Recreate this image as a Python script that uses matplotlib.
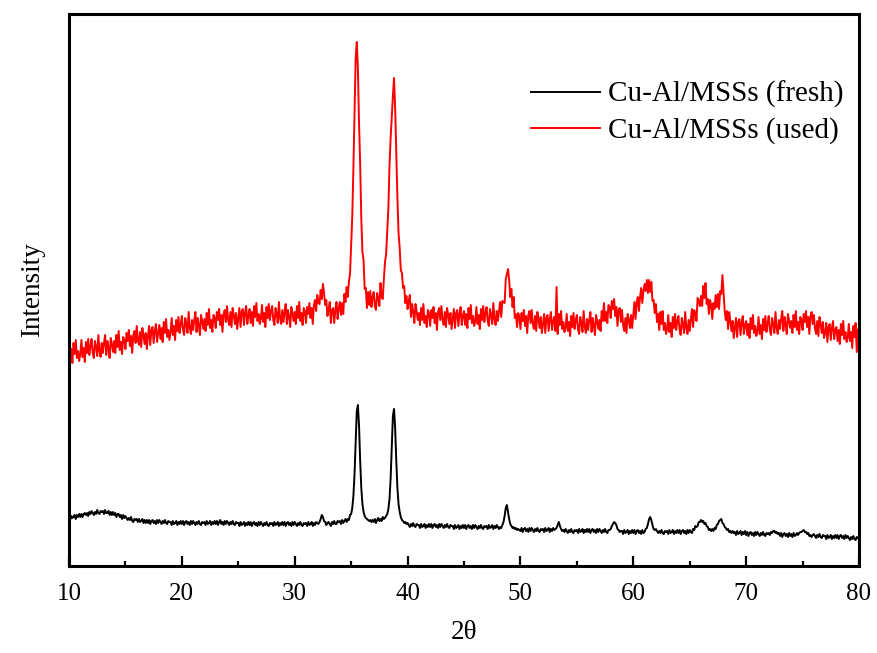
import numpy as np
import matplotlib
matplotlib.use("Agg")
import matplotlib.pyplot as plt
from matplotlib.ticker import MultipleLocator

plt.rcParams['font.family'] = ['Liberation Serif', 'DejaVu Serif']

two_theta = np.round(np.linspace(10, 80, 701), 1)

fresh = [
    49,46,50,48,49,51,47,51,49,52,
    49,52,49,52,53,51,53,50,54,52,
    55,53,51,54,52,56,53,52,55,54,
    55,52,56,53,53,55,51,54,51,54,
    51,53,49,52,52,49,51,47,51,48,
    50,48,46,48,46,49,45,44,47,46,
    47,44,47,44,45,47,43,46,43,46,
    43,46,42,45,46,43,45,42,46,43,
    46,44,42,45,43,46,43,42,45,44,
    44,41,45,42,43,45,41,44,42,45,
    42,45,41,44,45,42,44,41,45,42,
    45,43,41,44,42,45,42,41,44,43,
    44,41,45,42,43,45,41,44,42,45,
    42,45,41,44,46,42,44,41,45,42,
    45,43,41,44,42,45,42,41,44,43,
    43,40,44,41,42,44,40,43,41,44,
    41,44,40,43,44,41,43,40,44,41,
    44,42,40,43,41,44,41,40,43,42,
    43,40,44,41,42,44,40,43,41,44,
    41,44,40,43,44,41,43,40,44,41,
    44,42,40,43,41,44,41,40,43,42,
    43,40,44,41,42,44,40,43,41,44,
    43,42,44,47,51,49,45,44,41,43,
    44,42,40,44,42,45,42,42,45,44,
    45,42,46,43,45,47,44,47,46,51,
    52,58,70,92,125,155,161,140,105,78,
    62,54,50,48,47,46,45,46,44,46,
    44,47,43,46,48,45,47,45,49,47,
    48,50,52,57,67,88,120,150,157,138,
    105,78,62,54,49,46,45,43,44,42,
    43,41,39,42,40,43,40,39,42,41,
    41,38,42,39,40,42,38,41,39,42,
    39,42,38,41,42,39,41,38,42,39,
    42,40,38,41,39,42,39,38,41,40,
    40,37,41,38,39,41,37,40,38,41,
    38,41,37,40,41,38,40,37,41,38,
    41,39,37,40,38,41,38,37,40,39,
    40,37,41,38,39,41,37,40,38,41,
    39,37,39,38,41,44,50,58,61,54,
    47,42,40,38,39,37,38,36,37,36,
    35,38,34,37,38,35,37,34,38,35,
    38,36,34,37,35,38,35,34,37,36,
    37,34,38,35,36,38,34,37,35,38,
    36,37,38,41,44,40,37,35,36,34,
    37,35,33,36,34,37,34,33,36,35,
    36,33,37,34,35,37,33,36,34,37,
    34,37,33,36,37,34,36,33,37,34,
    37,35,33,36,34,37,34,33,36,36,
    37,40,42,44,43,41,37,36,34,35,
    35,32,36,33,34,36,32,35,33,36,
    33,36,32,35,36,33,35,32,36,33,
    34,37,38,42,47,49,46,41,37,36,
    37,35,33,35,33,36,33,32,35,34,
    35,32,36,33,34,36,32,35,33,36,
    33,36,32,35,36,33,35,32,36,33,
    36,34,33,37,36,40,39,40,44,44,
    46,44,45,42,43,40,39,36,37,35,
    37,35,38,37,41,42,45,46,47,43,
    42,39,38,36,37,34,35,33,35,33,
    34,31,35,32,33,35,31,34,32,35,
    31,34,30,33,34,31,33,30,34,31,
    34,32,30,33,31,34,31,30,33,32,
    33,31,34,33,35,35,33,34,32,33,
    30,33,29,32,33,30,32,29,33,30,
    32,29,33,30,31,33,31,33,34,34,
    35,36,34,34,32,33,30,31,29,31,
    32,30,28,31,29,32,29,28,31,30,
    30,27,31,28,29,31,27,30,28,31,
    28,31,27,30,31,28,30,27,31,28,
    30,28,26,29,27,30,27,26,29,28,
    28,
]

used = [
    220,206,217,203,223,212,226,208,215,205,
    212,226,209,218,204,224,213,227,211,220,
    227,213,208,225,219,210,231,215,209,223,
    213,223,231,211,225,218,208,228,222,214,
    225,213,231,219,235,216,224,212,229,226,
    217,233,225,236,220,230,213,231,235,223,
    240,226,221,234,219,238,231,222,233,217,
    230,240,221,236,239,223,235,242,224,233,
    241,227,238,224,244,233,247,229,236,226,
    234,248,231,240,226,246,235,249,233,242,
    250,236,231,248,242,233,254,238,232,246,
    236,246,254,234,248,241,231,251,245,237,
    247,235,253,241,257,238,246,234,251,248,
    238,254,246,257,241,251,234,252,256,244,
    260,246,241,254,239,258,251,242,253,237,
    248,258,239,254,257,241,253,260,242,251,
    257,243,254,240,260,249,263,245,252,242,
    247,261,244,253,239,259,248,262,246,255,
    260,246,241,258,252,243,264,248,242,256,
    244,254,262,242,256,249,239,259,253,245,
    254,242,260,248,264,245,253,241,258,255,
    243,259,252,263,248,258,242,261,266,255,
    271,263,262,276,267,282,273,261,266,250,
    256,264,243,256,258,243,256,264,247,258,
    264,251,263,252,272,264,279,269,284,292,
    322,350,398,452,508,524,497,442,402,347,
    314,306,277,278,258,274,261,275,259,269,
    274,260,256,273,268,260,283,269,267,287,
    304,312,336,358,401,428,450,470,488,458,
    412,368,333,318,296,293,278,280,263,270,
    257,265,271,249,262,254,243,262,255,246,
    253,241,258,246,262,243,250,239,256,253,
    240,256,248,259,243,253,236,254,258,246,
    260,246,241,254,239,258,251,242,253,237,
    247,257,238,253,256,240,252,259,241,250,
    255,241,252,238,258,247,261,243,250,240,
    245,259,242,251,237,257,246,260,244,253,
    259,245,240,257,251,242,263,247,241,255,
    245,255,264,249,265,264,263,287,292,297,
    286,269,277,259,269,248,252,239,253,250,
    237,253,245,256,240,250,233,251,255,243,
    256,242,237,250,235,254,247,238,249,233,
    242,252,233,248,251,235,247,254,236,245,
    249,235,279,232,252,241,255,237,244,234,
    238,252,235,244,230,250,239,253,237,246,
    251,237,232,249,243,234,255,239,233,247,
    236,246,254,234,248,241,231,251,245,237,
    246,235,255,245,263,245,254,243,261,259,
    248,265,257,267,250,259,240,256,258,244,
    256,241,235,248,233,252,246,238,251,238,
    251,264,247,264,269,255,269,278,263,275,
    282,275,286,273,286,274,284,265,266,253,
    262,244,252,236,254,242,255,236,243,232,
    237,251,234,243,229,249,238,252,236,245,
    250,236,231,248,242,233,254,238,232,246,
    235,247,257,239,256,252,245,268,265,260,
    270,260,280,268,283,262,267,252,266,261,
    247,263,257,271,259,272,257,275,272,291,
    273,255,246,255,237,254,245,235,245,228,
    238,248,229,244,247,231,243,250,232,241,
    245,231,242,228,248,237,251,233,240,230,
    235,249,232,241,227,247,236,250,234,243,
    250,236,231,248,242,233,254,238,232,246,
    237,247,255,235,249,242,232,252,246,238,
    245,233,251,239,255,236,244,232,249,246,
    236,252,244,255,239,249,232,250,254,242,
    251,237,232,245,230,249,242,233,244,228,
    233,243,224,239,242,226,238,245,227,236,
    239,225,236,222,242,231,245,227,234,224,
    228,242,225,234,218,240,229,243,214,236,
    238,
]

labels = ["Cu-Al/MSSs (fresh)", "Cu-Al/MSSs (used)"]
x_ticks = [10, 20, 30, 40, 50, 60, 70, 80]

fig = plt.figure(figsize=(8.77, 6.53), dpi=100)
ax = fig.add_axes([69/877, 1 - 566/653, 790/877, 552/653])

ax.plot(two_theta, fresh, color="black", lw=1.4, label=labels[0])
ax.plot(two_theta, used, color="#ff0000", lw=1.4, label=labels[1])

ax.set_xlim(10, 80)
ax.set_ylim(0, 552)
ax.set_xticks(x_ticks)
ax.xaxis.set_minor_locator(MultipleLocator(5))
ax.set_yticks([])
ax.tick_params(axis="x", which="major", direction="in", length=7, width=1.6,
               labelsize=18, pad=12, top=False)
ax.tick_params(axis="x", which="minor", direction="in", length=3.5, width=1.6, top=False)
for s in ax.spines.values():
    s.set_linewidth(2.2)

ax.set_xlabel("2θ", fontsize=19.5, labelpad=11)
ax.set_ylabel("Intensity", fontsize=19.5, labelpad=17)

leg = ax.legend(loc="upper right", bbox_to_anchor=(0.98, 0.879), frameon=False,
                borderaxespad=0, borderpad=0,
                fontsize=21, handlelength=2.36, handletextpad=0.27, labelspacing=0.32)
for h in leg.get_lines():
    h.set_linewidth(1.4)

fig.savefig("out.png", dpi=100)
